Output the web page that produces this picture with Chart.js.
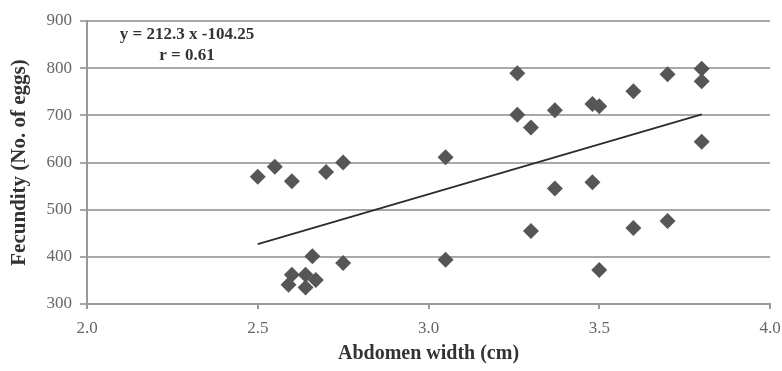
<!DOCTYPE html>
<html>
<head>
<meta charset="utf-8">
<script src="https://cdn.jsdelivr.net/npm/chart.js@4"></script>
<style>
  html, body { margin: 0; padding: 0; background: #fff; }
  #wrap { width: 782px; height: 371px; }
</style>
</head>
<body>
<div id="wrap"><canvas id="fecundityChart"></canvas></div>
<script>
// data
const abdomenWidth = [2.50, 2.55, 2.60, 2.70, 2.75, 3.05, 3.26, 3.26, 3.30, 3.37, 3.48, 3.50, 3.60, 3.70, 3.80, 3.80, 3.80,
                      3.37, 3.48, 3.30, 3.60, 3.70, 3.05, 3.50, 2.66, 2.75, 2.60, 2.64, 2.67, 2.59, 2.64];
const fecundity = [570, 591, 560, 580, 600, 611, 789, 701, 674, 711, 724, 719, 751, 787, 799, 772, 644,
                   545, 558, 455, 461, 476, 394, 372, 401, 387, 362, 362, 351, 341, 335];
const trendX = [2.5, 3.8];
const trendY = [427, 702];
const xTicks = [2.0, 2.5, 3.0, 3.5, 4.0];
const yTicks = [300, 400, 500, 600, 700, 800, 900];
const equationText = ['y = 212.3 x -104.25', 'r = 0.61'];

const serif = '"Liberation Serif", "Times New Roman", serif';

const points = abdomenWidth.map((w, i) => ({ x: w, y: fecundity[i] }));
const trend = trendX.map((w, i) => ({ x: w, y: trendY[i] }));

// equation label in the top-left of the plot
const equationLabel = {
  id: 'equationLabel',
  afterDatasetsDraw(chart) {
    const ctx = chart.ctx;
    ctx.save();
    ctx.font = 'bold 17px ' + serif;
    ctx.fillStyle = '#333';
    ctx.textAlign = 'center';
    ctx.textBaseline = 'middle';
    ctx.fillText(equationText[0], 187, 35);
    ctx.fillText(equationText[1], 187, 56);
    ctx.restore();
  }
};

const ctx = document.getElementById('fecundityChart').getContext('2d');
const chart = new Chart(ctx, {
  type: 'scatter',
  data: {
    datasets: [{
      label: 'Fecundity',
      data: points,
      pointStyle: 'rectRot',
      pointRadius: 8,
      backgroundColor: '#565656',
      borderColor: '#565656',
      borderWidth: 0,
      order: 1
    }, {
      label: 'Trend',
      type: 'line',
      data: trend,
      borderColor: '#2b2b2b',
      borderWidth: 1.7,
      pointRadius: 0,
      fill: false,
      order: 0
    }]
  },
  options: {
    responsive: true,
    maintainAspectRatio: false,
    animation: false,
    layout: { padding: { left: 0, right: 12, top: 21, bottom: 0 } },
    plugins: {
      legend: { display: false },
      tooltip: { enabled: false }
    },
    scales: {
      x: {
        type: 'linear',
        min: 2.0,
        max: 4.0,
        afterBuildTicks: s => { s.ticks = xTicks.map(v => ({ value: v })); },
        afterFit: s => {
          s.height = 67;
          s.paddingLeft = 0;
          s.paddingRight = 0;
        },
        grid: { drawOnChartArea: false, color: '#999', tickLength: 5, lineWidth: 2 },
        border: { color: '#999', width: 2 },
        ticks: {
          color: '#666',
          font: { family: serif, size: 17 },
          padding: 9,
          callback: v => v.toFixed(1)
        },
        title: {
          display: true,
          text: 'Abdomen width (cm)',
          color: '#333',
          font: { family: serif, size: 20, weight: 'bold' },
          padding: { top: 4, bottom: 5 }
        }
      },
      y: {
        min: 300,
        max: 900,
        afterBuildTicks: s => { s.ticks = yTicks.map(v => ({ value: v })); },
        afterFit: s => { s.width = 87; },
        grid: { color: '#a8a8a8', lineWidth: 2, tickLength: 7 },
        border: { color: '#999', width: 2 },
        ticks: {
          color: '#666',
          font: { family: serif, size: 17 },
          padding: 8
        },
        title: {
          display: true,
          text: 'Fecundity (No. of eggs)',
          color: '#333',
          font: { family: serif, size: 21, weight: 'bold' },
          padding: { top: 7, bottom: 4 }
        }
      }
    }
  },
  plugins: [equationLabel]
});
</script>
</body>
</html>
